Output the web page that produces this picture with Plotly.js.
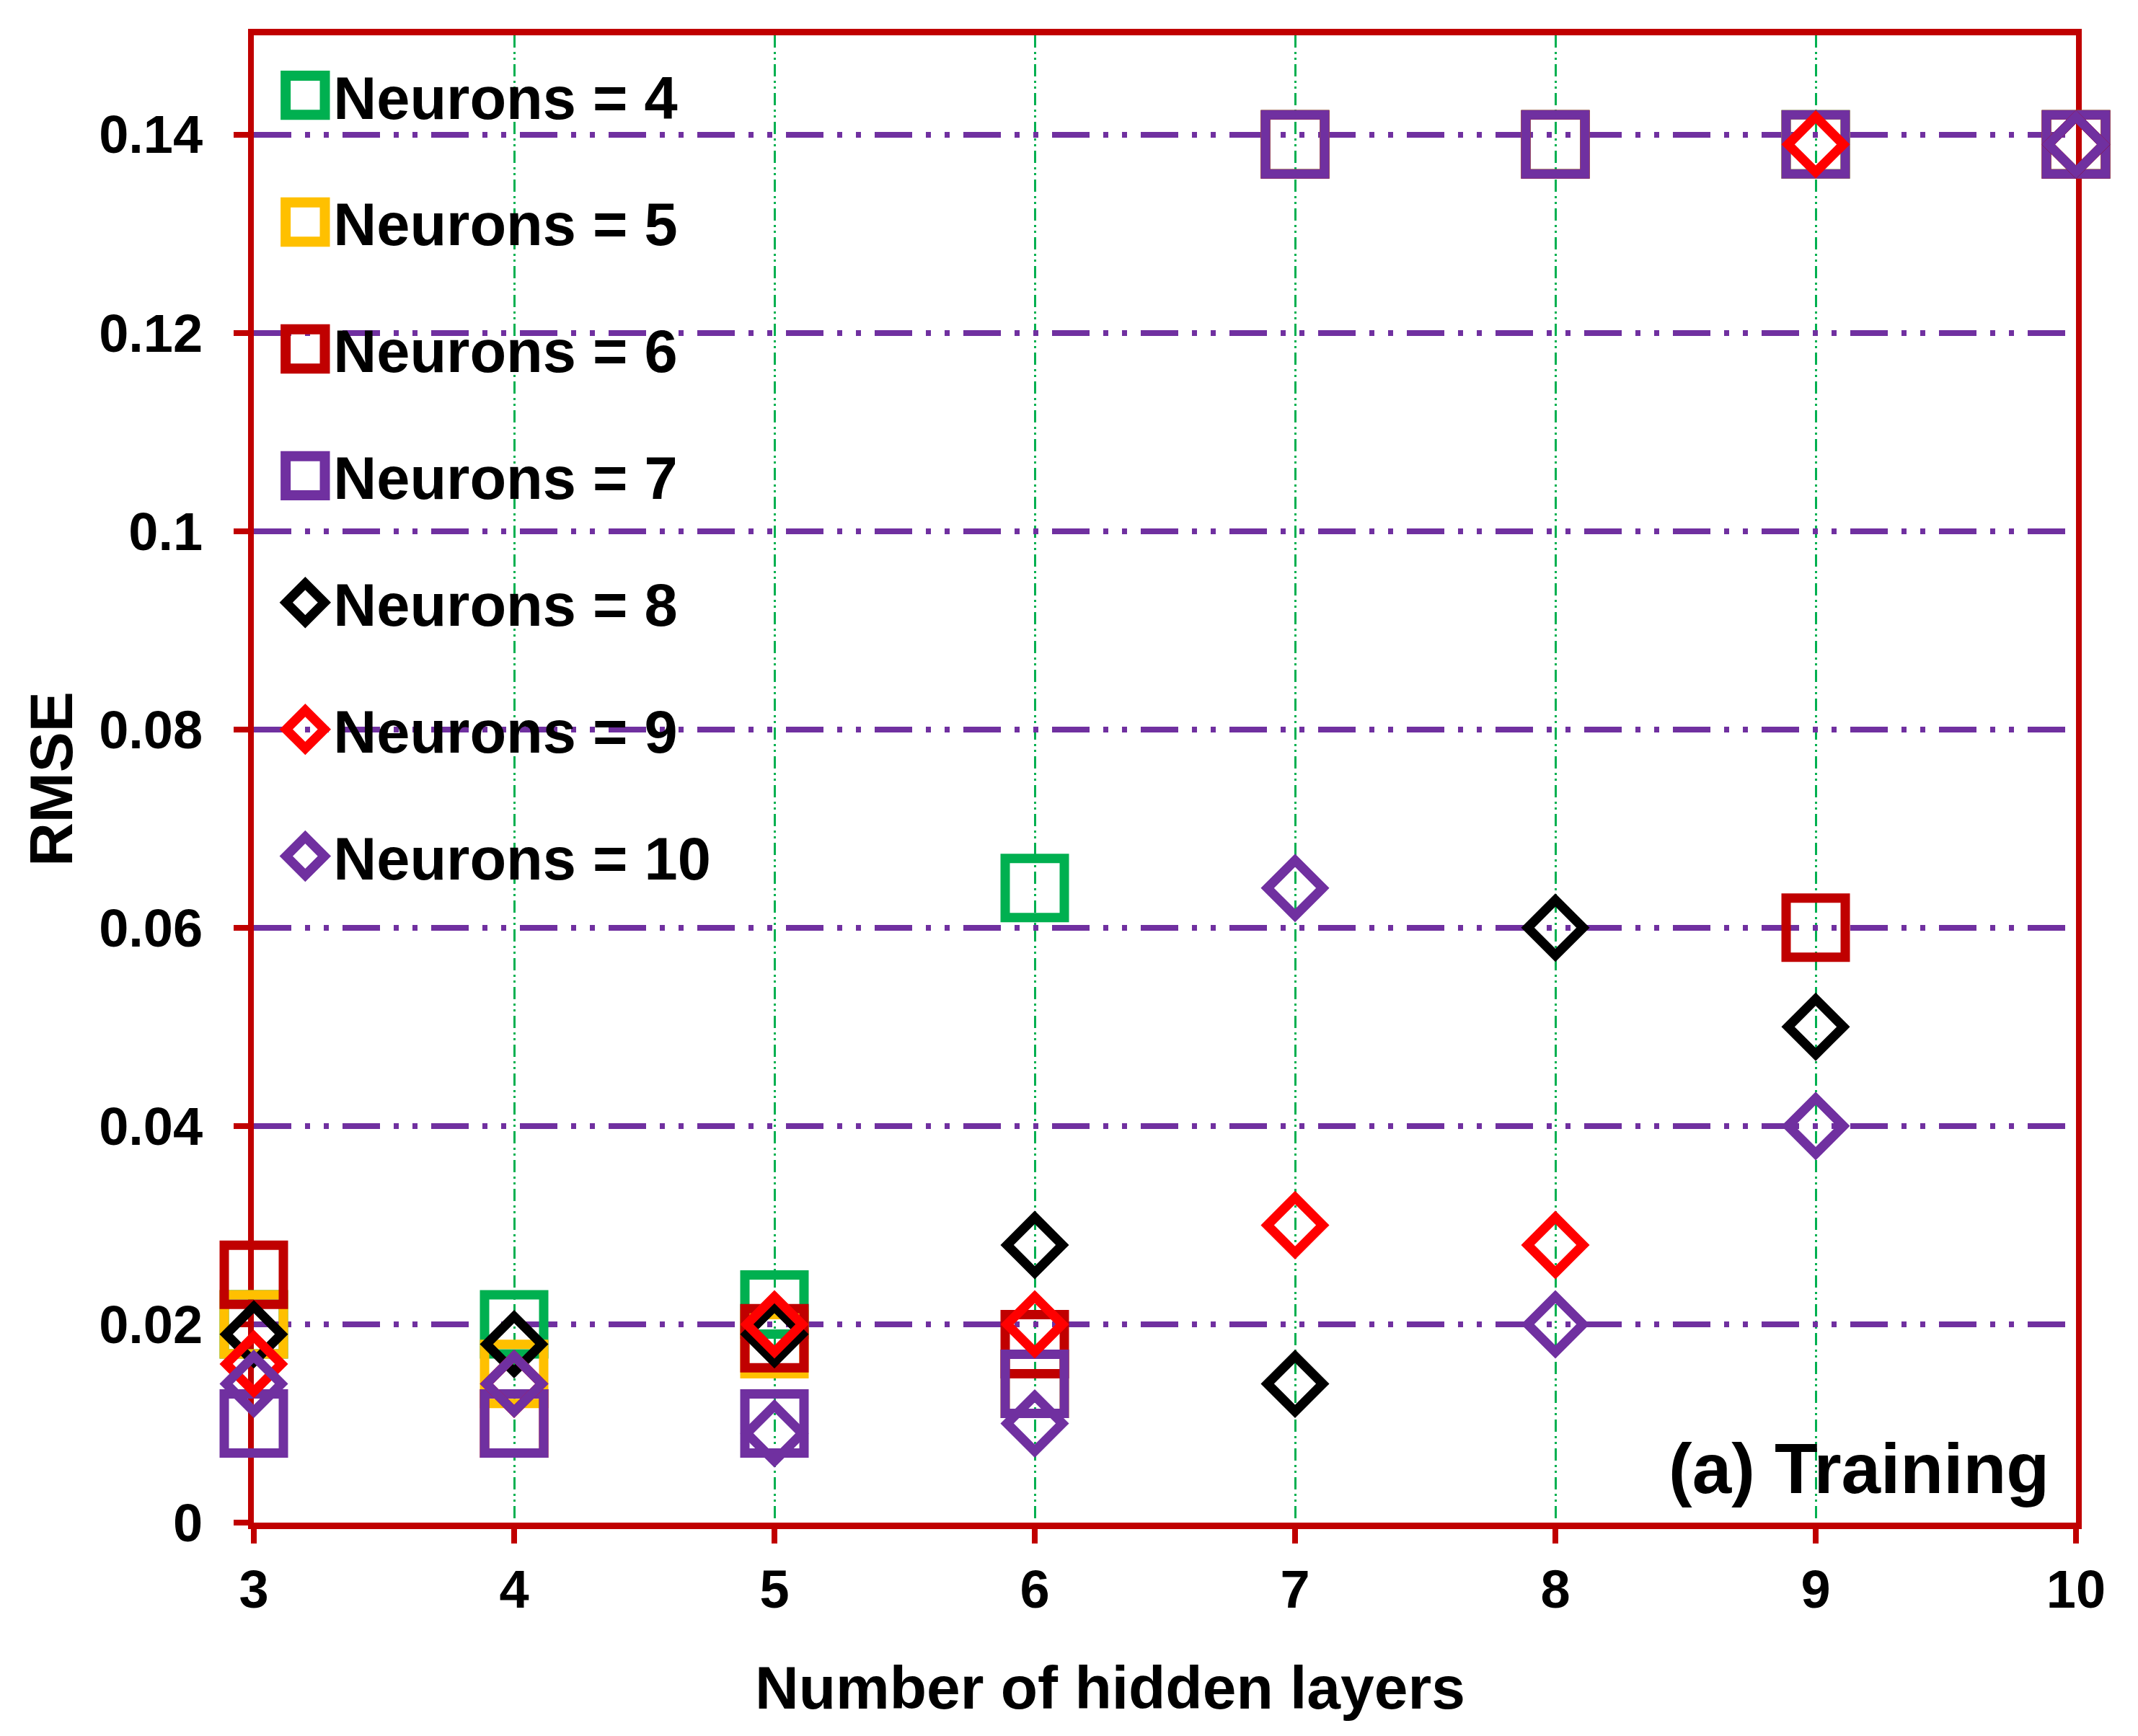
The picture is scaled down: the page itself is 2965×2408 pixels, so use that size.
<!DOCTYPE html>
<html><head><meta charset="utf-8">
<script src="https://cdn.plot.ly/plotly-3.0.1.min.js"></script>
<style>html,body{margin:0;padding:0;background:#fff;} #chart{width:2965px;height:2408px;}</style>
</head><body><div id="chart"></div>
<script>
// Data
const hiddenLayers = [3, 4, 5, 6, 7, 8, 9, 10];
const rmseN4  = [0.020, 0.020, 0.022, 0.064, 0.139, 0.139, 0.139, 0.139];
const rmseN5  = [0.020, 0.015, 0.018, 0.014, 0.139, 0.139, 0.139, 0.139];
const rmseN6  = [0.025, 0.010, 0.0186, 0.018, 0.139, 0.139, 0.060, 0.139];
const rmseN7  = [0.010, 0.010, 0.010, 0.014, 0.139, 0.139, 0.139, 0.139];
const rmseN8  = [0.019, 0.018, 0.019, 0.028, 0.014, 0.060, 0.050, 0.139];
const rmseN9  = [0.016, 0.014, 0.020, 0.020, 0.030, 0.028, 0.139, 0.139];
const rmseN10 = [0.014, 0.014, 0.009, 0.010, 0.064, 0.020, 0.040, 0.139];
const seriesNames = ['Neurons = 4', 'Neurons = 5', 'Neurons = 6', 'Neurons = 7', 'Neurons = 8', 'Neurons = 9', 'Neurons = 10'];
const seriesValues = [rmseN4, rmseN5, rmseN6, rmseN7, rmseN8, rmseN9, rmseN10];
const seriesColors = ['#00B050', '#FFC000', '#C00000', '#7030A0', '#000000', '#FF0000', '#7030A0'];
const seriesSymbols = ['square-open', 'square-open', 'square-open', 'square-open', 'diamond-open', 'diamond-open', 'diamond-open'];
const xTickVals = [3, 4, 5, 6, 7, 8, 9, 10];
const yTickVals = [0, 0.02, 0.04, 0.06, 0.08, 0.10, 0.12, 0.14];
const yTickText = ['0', '0.02', '0.04', '0.06', '0.08', '0.1', '0.12', '0.14'];

const FONT = 'Arial, "Liberation Sans", sans-serif';
const AXIS_RED = '#C00000';

const data = seriesNames.map((name, i) => {
  const isDia = seriesSymbols[i].indexOf('diamond') === 0;
  return {
    type: 'scatter',
    mode: 'markers',
    name: name,
    legendgroup: 'g' + i,
    x: hiddenLayers,
    y: seriesValues[i],
    cliponaxis: false,
    marker: {
      symbol: seriesSymbols[i],
      size: isDia ? 59 : 82,
      color: seriesColors[i],
      line: {color: seriesColors[i], width: 13}
    }
  };
});

const layout = {
  width: 2965,
  height: 2408,
  paper_bgcolor: '#ffffff',
  plot_bgcolor: '#ffffff',
  margin: {l: 352, r: 86, t: 49, b: 296},
  font: {family: FONT, color: '#000000', size: 74, weight: 'bold'},
  showlegend: true,
  legend: {
    x: 0.012, y: 0.989, xanchor: 'left', yanchor: 'top',
    bgcolor: 'rgba(0,0,0,0)',
    borderwidth: 0,
    traceorder: 'grouped',
    tracegroupgap: 65,
    itemwidth: 70,
    font: {family: FONT, size: 83, color: '#000000', weight: 'bold'}
  },
  xaxis: {
    range: [3, 10],
    tickvals: xTickVals,
    ticks: 'outside',
    ticklen: 20,
    tickwidth: 8,
    tickcolor: AXIS_RED,
    showline: true,
    linecolor: AXIS_RED,
    linewidth: 9,
    mirror: true,
    layer: 'below traces',
    zeroline: false,
    showgrid: true,
    gridcolor: '#00B050',
    gridwidth: 3,
    griddash: '17px,6px,3px,5px,3px,6px',
    tickfont: {family: FONT, size: 74, color: '#000000', weight: 'bold'},
    title: {text: 'Number of hidden layers', standoff: 70, font: {family: FONT, size: 84, color: '#000000', weight: 'bold'}}
  },
  yaxis: {
    range: [0, 0.15],
    tickvals: yTickVals,
    ticktext: yTickText,
    ticks: 'outside',
    ticklen: 20,
    tickwidth: 8,
    tickcolor: AXIS_RED,
    ticklabelstandoff: 28,
    showline: true,
    linecolor: AXIS_RED,
    linewidth: 8,
    mirror: true,
    layer: 'below traces',
    zeroline: false,
    showgrid: true,
    gridcolor: '#7030A0',
    gridwidth: 8,
    griddash: '52px,19px,7px,19px,7px,19px',
    tickfont: {family: FONT, size: 74, color: '#000000', weight: 'bold'},
    title: {text: 'RMSE', standoff: 12, font: {family: FONT, size: 84, color: '#000000', weight: 'bold'}}
  },
  annotations: [{
    xref: 'paper', yref: 'paper',
    x: 0.986, y: 0.0364, xanchor: 'right', yanchor: 'middle',
    text: '(a) Training', showarrow: false,
    font: {family: FONT, size: 98, color: '#000000', weight: 'bold'}
  }]
};

const gd = document.getElementById('chart');
function adjustDecorations() {
  gd.querySelectorAll('.legend .traces').forEach(g => {
    const t = g.querySelector('text.legendtext');
    const p = g.querySelector('path.scatterpts');
    if (!t || !p) return;
    const idx = seriesNames.indexOf(t.textContent);
    if (idx < 0) return;
    const isDia = seriesSymbols[idx].indexOf('diamond') === 0;
    const k = isDia ? 2.55 : 3.4;
    p.setAttribute('transform', 'translate(41,0) scale(' + k + ')');
    p.style.strokeWidth = ((isDia ? 13 : 14) / k) + 'px';
  });
  // the reference's x-axis title sits slightly left of the plot centre
  const xt = gd.querySelector('.g-xtitle');
  if (xt) xt.setAttribute('transform', 'translate(-76,0)');
}
Plotly.newPlot(gd, data, layout, {staticPlot: true, displayModeBar: false}).then(() => {
  adjustDecorations();
  gd.on('plotly_afterplot', adjustDecorations);
});
</script>
</body></html>
